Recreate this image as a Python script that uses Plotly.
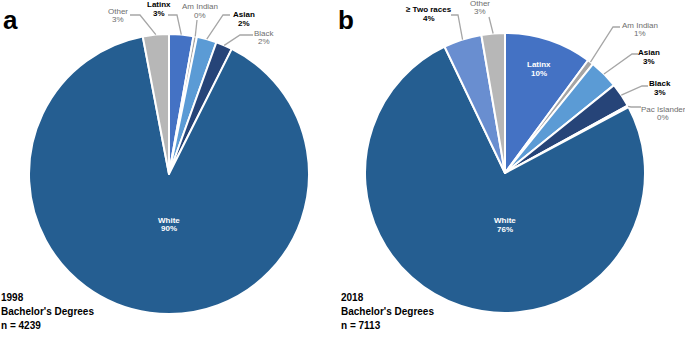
import math
import plotly.graph_objects as go

# ---------------- data ----------------
cats_1998 = ["Latinx", "Am Indian", "Asian", "Black", "White", "Other"]
vals_1998 = [2.8, 0.4, 2.3, 1.9, 89.6, 3.0]

cats_2018 = ["Latinx", "Am Indian", "Asian", "Black", "Pac Islander", "White", "≥ Two races", "Other"]
vals_2018 = [10.1, 0.7, 3.4, 2.8, 0.2, 75.7, 4.4, 2.7]

year_labels = ["1998", "2018"]
n_labels = ["n = 4239", "n = 7113"]
panel_letters = ["a", "b"]

# ---------------- style ----------------
W, H = 685, 339
FONT = "Arial, Liberation Sans, sans-serif"
colors = {
    "Latinx": "#4472C4", "Am Indian": "#A5A5A5", "Asian": "#5B9BD5",
    "Black": "#264478", "Pac Islander": "#6b6b6b", "White": "#255E91",
    "≥ Two races": "#698ED0", "Other": "#B7B7B7",
}
LINE_COL = "#A6A6A6"
GRAY_TXT = "#6E6E6E"

# pie geometry in pixels (center, radius)
pies = [
    dict(cx=169, cy=174, R=140, cats=cats_1998, vals=vals_1998, base_x=0, letter_x=1),
    dict(cx=505, cy=173, R=140, cats=cats_2018, vals=vals_2018, base_x=340, letter_x=336),
]

# label layout per pie: category -> (label x, first line y, [leader start], [elbow], bold)
label_layout = [
    {
        "Latinx": (159, 5, (168, 15), (177, 15), True),
        "Am Indian": (200, 7, (197, 20), (197, 20), False),
        "Asian": (244, 15, (230, 15), (223, 15), True),
        "Black": (264, 33, (253, 35), (240, 35), False),
        "Other": (118, 11, (130, 15), (140, 15), False),
    },
    {
        "≥ Two races": (429, 10, (451, 15), (458, 15), True),
        "Other": (480, 3, (489, 17), (489, 17), False),
        "Am Indian": (640, 25, (620, 27), (613, 27), False),
        "Asian": (649, 53, (638, 54), (632, 54), True),
        "Black": (660, 84, (648, 86), (642, 86), True),
        "Pac Islander": (663, 109, (641, 107), (631, 107), False),
    },
]
# inside labels: category -> (angle deg from 12 o'clock clockwise or None for mid, radius fraction)
inside_layout = [
    {"White": (180, 0.36)},
    {"White": (180, 0.37), "Latinx": (None, 0.78)},
]


def px(x):
    return x / W


def py(y):
    return 1 - y / H


fig = go.Figure()
annotations = []
shapes = []

for i, p in enumerate(pies):
    cx, cy, R = p["cx"], p["cy"], p["R"]
    fig.add_trace(go.Pie(
        labels=p["cats"], values=p["vals"], sort=False, direction="clockwise",
        rotation=0, textinfo="none", hoverinfo="label+percent",
        marker=dict(colors=[colors[c] for c in p["cats"]], line=dict(color="white", width=2)),
        domain=dict(x=[px(cx - R), px(cx + R)], y=[py(cy + R), py(cy - R)]),
        showlegend=False,
    ))
    total = sum(p["vals"])
    cum = 0.0
    mids = {}
    for c, v in zip(p["cats"], p["vals"]):
        a0 = cum / total * 360
        cum += v
        a1 = cum / total * 360
        mids[c] = ((a0 + a1) / 2, v)

    def pt(ang, r):
        t = math.radians(ang)
        return cx + r * math.sin(t), cy - r * math.cos(t)

    # outside labels with leader lines
    for c, (lx, ly, s, e, bold) in label_layout[i].items():
        ang, v = mids[c]
        rx, ry = pt(ang, R)
        path = f"M {px(s[0])} {py(s[1])} L {px(e[0])} {py(e[1])} L {px(rx)} {py(ry)}"
        shapes.append(dict(type="path", xref="paper", yref="paper", path=path,
                           line=dict(color=LINE_COL, width=1.3)))
        col = "#000000" if bold else GRAY_TXT
        for k, txt in enumerate([c, f"{round(v)}%"]):
            t = f"<b>{txt}</b>" if bold else txt
            annotations.append(dict(x=px(lx), y=py(ly + 8.8 * k), xref="paper", yref="paper",
                                    text=t, showarrow=False, xanchor="center", yanchor="middle",
                                    font=dict(family=FONT, size=8, color=col)))
    # inside labels
    for c, (ang, rf) in inside_layout[i].items():
        mang, v = mids[c]
        a = mang if ang is None else ang
        tx, ty = pt(a, rf * R)
        for k, txt in enumerate([c, f"{round(v)}%"]):
            annotations.append(dict(x=px(tx), y=py(ty - 4.4 + 8.8 * k), xref="paper", yref="paper",
                                    text=f"<b>{txt}</b>", showarrow=False, xanchor="center",
                                    yanchor="middle", font=dict(family=FONT, size=8, color="white")))
    # panel letter
    annotations.append(dict(x=px(p["letter_x"]), y=py(20), xref="paper", yref="paper",
                            text=f"<b>{panel_letters[i]}</b>", showarrow=False, xanchor="left",
                            yanchor="middle", font=dict(family=FONT, size=26, color="black")))
    # caption
    for k, txt in enumerate([year_labels[i], "Bachelor's Degrees", n_labels[i]]):
        annotations.append(dict(x=px(p["base_x"] - 1), y=py(297 + 14 * k), xref="paper", yref="paper",
                                text=f"<b>{txt}</b>", showarrow=False, xanchor="left",
                                yanchor="middle", font=dict(family=FONT, size=10, color="black")))

fig.update_layout(
    width=W, height=H, margin=dict(l=0, r=0, t=0, b=0),
    paper_bgcolor="white", plot_bgcolor="white",
    annotations=annotations, shapes=shapes,
)

fig.write_html(
    "out.html",
    config={"displayModeBar": False},
    post_script="document.body.style.margin='0';document.body.style.overflow='hidden';",
)
